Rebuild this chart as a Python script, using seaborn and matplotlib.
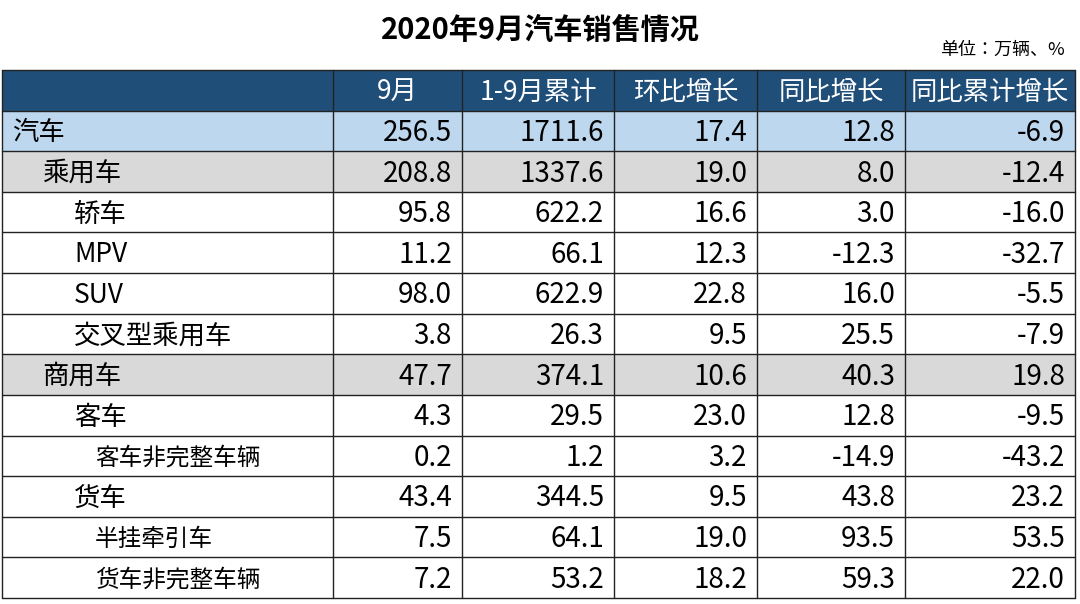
import matplotlib
matplotlib.use("Agg")
import matplotlib.pyplot as plt
import seaborn as sns
from matplotlib.patches import Rectangle
from matplotlib import font_manager as fm

sns.set_theme(style="white")

cjk_path = None
for f in fm.fontManager.ttflist:
    if "CJK" in f.name and ("SC" in f.name or "JP" in f.name):
        if cjk_path is None or ("SC" in f.name and f.weight in (400, "normal", "regular")):
            cjk_path = f.fname
if cjk_path is None:
    import glob
    cands = glob.glob("/usr/share/fonts/**/*CJK*", recursive=True)
    cjk_path = cands[0] if cands else None
if cjk_path:
    fm.fontManager.addfont(cjk_path)
    fam = fm.FontProperties(fname=cjk_path).get_name()
    plt.rcParams["font.family"] = fam
    FONT = fam
else:
    FONT = "Noto Sans CJK SC"

headers = ["", "9月", "1-9月累计", "环比增长", "同比增长", "同比累计增长"]
categories = ["汽车", "乘用车", "轿车", "MPV", "SUV", "交叉型乘用车", "商用车", "客车",
              "客车非完整车辆", "货车", "半挂牵引车", "货车非完整车辆"]
levels = [0, 1, 2, 2, 2, 2, 1, 2, 3, 2, 3, 3]
sep_sales = [256.5, 208.8, 95.8, 11.2, 98.0, 3.8, 47.7, 4.3, 0.2, 43.4, 7.5, 7.2]
ytd_sales = [1711.6, 1337.6, 622.2, 66.1, 622.9, 26.3, 374.1, 29.5, 1.2, 344.5, 64.1, 53.2]
mom_growth = [17.4, 19.0, 16.6, 12.3, 22.8, 9.5, 10.6, 23.0, 3.2, 9.5, 19.0, 18.2]
yoy_growth = [12.8, 8.0, 3.0, -12.3, 16.0, 25.5, 40.3, 12.8, -14.9, 43.8, 93.5, 59.3]
ytd_yoy_growth = [-6.9, -12.4, -16.0, -32.7, -5.5, -7.9, 19.8, -9.5, -43.2, 23.2, 53.5, 22.0]

col_edges = [2, 333, 462, 614, 757, 905, 1075]
top, bottom = 70, 598
nrows = len(categories) + 1
rh = (bottom - top) / nrows
indent = {0: 12, 1: 42, 2: 74, 3: 95}

fig = plt.figure(figsize=(10.8, 6.04), dpi=100)
ax = fig.add_axes([0, 0, 1, 1])
ax.set_xlim(0, 1080)
ax.set_ylim(604, 0)
ax.axis("off")

def row_color(i):
    if i == 0:
        return "#1F4E79"
    lv = levels[i - 1]
    if lv == 0:
        return "#BDD7EE"
    if lv == 1:
        return "#D9D9D9"
    return "white"

for i in range(nrows):
    y0 = top + i * rh
    ax.add_patch(Rectangle((col_edges[0], y0), col_edges[-1] - col_edges[0], rh,
                           facecolor=row_color(i), edgecolor="none"))
for i in range(nrows + 1):
    y = top + i * rh
    ax.plot([col_edges[0], col_edges[-1]], [y, y], color="#222222", lw=1)
for x in col_edges:
    ax.plot([x, x], [top, bottom], color="#222222", lw=1)

for j in range(1, 6):
    cx = (col_edges[j] + col_edges[j + 1]) / 2
    ax.text(cx, top + rh / 2 + 2, headers[j], color="white", fontsize=19,
            ha="center", va="center", fontfamily=FONT)

cols = [sep_sales, ytd_sales, mom_growth, yoy_growth, ytd_yoy_growth]
for r, name in enumerate(categories):
    yc = top + (r + 1) * rh + rh / 2 + 2
    fs = 19 if levels[r] < 3 else 17
    ax.text(indent[levels[r]], yc, name, fontsize=fs, ha="left", va="center",
            color="black", fontfamily=FONT)
    for j, col in enumerate(cols):
        ax.text(col_edges[j + 2] - 10, yc, f"{col[r]:.1f}", fontsize=20,
                ha="right", va="center", color="black", fontfamily=FONT)

ax.text(540, 30, "2020年9月汽车销售情况", fontsize=21, fontweight="bold",
        ha="center", va="center", color="black", fontfamily=FONT)
ax.text(1065, 50, "单位：万辆、%", fontsize=13, ha="right", va="center",
        color="black", fontfamily=FONT)

fig.savefig("out.png", dpi=100)
